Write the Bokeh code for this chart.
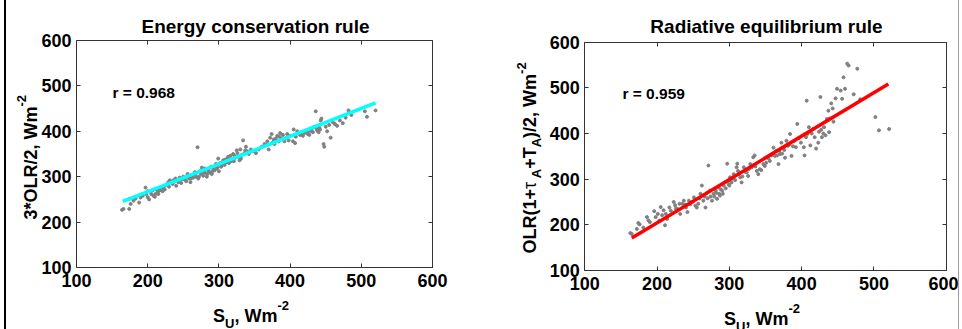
import math
from bokeh.plotting import figure
from bokeh.models import Range1d, LinearAxis, FixedTicker, Label, Spacer
from bokeh.layouts import row
from bokeh.embed import file_html
from bokeh.resources import INLINE

FONT = "Liberation Sans"

# ---------------- data ----------------
ticks = [100, 200, 300, 400, 500, 600]

titles = ["Energy conservation rule", "Radiative equilibrium rule"]
r_texts = ["r = 0.968", "r = 0.959"]

# Panel 1: S_U vs 3*OLR/2
su_energy = [164, 166, 174, 176, 174, 180, 183, 188, 190, 193, 197, 198, 200, 200, 202, 205, 207, 208, 210, 212,
             214, 215, 217, 219, 221, 223, 224, 226, 228, 230, 231, 233, 235, 237, 239, 240, 243, 245, 247, 250,
             252, 254, 256, 258, 260, 262, 264, 266, 268, 270, 271, 273, 275, 276, 278, 280, 281, 283, 285, 287,
             289, 290, 292, 294, 296, 298, 299, 300, 302, 304, 306, 308, 310, 312, 314, 316, 318, 320, 321, 323,
             325, 327, 329, 330, 332, 334, 336, 338, 340, 342, 345, 348, 352, 356, 360, 364, 368, 370, 372, 374,
             376, 378, 380, 382, 384, 386, 388, 390, 392, 395, 398, 400, 404, 405, 407, 410, 414, 416, 418, 420,
             424, 427, 430, 432, 434, 436, 438, 440, 442, 443, 444, 447, 448, 450, 452, 455, 457, 460, 463, 466,
             470, 474, 478, 482, 486, 505, 508, 520,
             211, 216, 222, 229, 236, 248, 255, 261, 267, 272, 279, 284, 286, 291, 297, 303, 309, 313, 317, 322,
             326, 331, 337, 343, 366, 377, 385, 396, 408, 413, 425, 429, 437, 441]
olr_energy = [227, 229, 229, 240, 251, 247, 252, 243, 254, 258, 276, 262, 268, 255, 250, 262, 270, 258, 256, 272,
              266, 262, 276, 270, 268, 280, 272, 282, 285, 278, 292, 288, 284, 290, 296, 280, 288, 298, 286, 300,
              294, 290, 306, 296, 288, 302, 298, 310, 300, 365, 296, 312, 306, 320, 302, 318, 308, 300, 314, 310,
              322, 306, 318, 314, 328, 320, 340, 312, 330, 324, 336, 326, 332, 340, 330, 346, 338, 350, 334, 342,
              358, 344, 336, 360, 348, 380, 352, 366, 356, 350, 360, 356, 352, 360, 366, 372, 378, 360, 386, 394,
              376, 372, 384, 390, 378, 396, 384, 392, 378, 386, 380, 390, 378, 404, 374, 400, 392, 398, 390, 396,
              400, 392, 404, 398, 410, 444, 402, 398, 404, 424, 428, 372, 366, 410, 400, 414, 386, 420, 416, 412,
              424, 418, 430, 446, 436, 444, 432, 446,
              262, 270, 276, 288, 292, 294, 300, 296, 304, 300, 310, 306, 318, 312, 318, 322, 338, 344, 334, 346,
              352, 340, 358, 354, 370, 382, 388, 394, 388, 396, 394, 400, 406, 408]

# Panel 2: S_U vs OLR(1+tau_A+T_A)/2
su_radiative = [163, 165, 172, 174, 176, 181, 186, 188, 190, 196, 198, 201, 203, 205, 207, 209, 211, 212, 214, 217,
                219, 223, 225, 228, 232, 235, 237, 240, 242, 244, 246, 251, 253, 255, 260, 262, 264, 267, 269, 271,
                273, 276, 278, 281, 283, 285, 287, 290, 292, 294, 297, 299, 301, 303, 306, 310, 311, 313, 315, 317,
                320, 324, 326, 329, 331, 333, 335, 338, 340, 342, 347, 349, 352, 356, 361, 363, 365, 368, 370, 372,
                375, 377, 379, 381, 384, 386, 390, 392, 394, 396, 403, 404, 407, 408, 410, 412, 416, 418, 420, 423,
                426, 427, 428, 431, 433, 435, 437, 438, 439, 441, 443, 444, 447, 449, 454, 456, 458, 460, 463, 465,
                472, 477, 481, 502, 507, 521,
                226, 231, 239, 249, 257, 259, 266, 270, 274, 279, 282, 286, 288, 291, 295, 298, 300, 302, 305, 308,
                312, 318, 322, 327, 336, 344, 351, 354, 358, 366, 369, 373, 376, 383, 388, 399, 406, 414, 424, 430]
olr_radiative = [182, 180, 191, 204, 201, 194, 217, 210, 206, 230, 217, 224, 209, 239, 221, 232, 199, 224, 213, 238,
                 231, 250, 243, 235, 224, 246, 253, 238, 228, 253, 245, 260, 242, 238, 268, 286, 253, 238, 270, 330,
                 275, 253, 268, 275, 257, 282, 264, 275, 286, 293, 334, 289, 304, 293, 311, 326, 334, 311, 304, 293,
                 326, 315, 307, 333, 326, 348, 352, 318, 311, 322, 333, 329, 348, 340, 369, 351, 362, 333, 355, 380,
                 369, 347, 384, 373, 399, 351, 384, 370, 421, 390, 370, 352, 472, 399, 414, 374, 410, 392, 367, 380,
                 480, 408, 392, 414, 396, 432, 450, 403, 433, 466, 455, 426, 477, 498, 494, 476, 523, 498, 553, 549,
                 486, 542, 475, 436, 407, 410,
                 236, 246, 244, 250, 246, 258, 262, 258, 262, 262, 270, 268, 278, 268, 280, 296, 286, 296, 302, 298,
                 318, 306, 316, 322, 328, 320, 336, 346, 352, 352, 362, 356, 364, 376, 372, 380, 392, 400, 404, 400]

# regression lines (end points)
fit_x = [165, 520]
fit_energy = [245.5, 462.5]
fit_radiative = [171, 508.5]

# ---------------- helpers ----------------
EM = {' ': .278, '(': .333, ')': .333, '*': .389, '+': .584, ',': .278, '-': .333, '.': .278, '/': .278,
      '=': .584, 'A': .722, 'L': .611, 'O': .778, 'R': .722, 'S': .667, 'T': .611, 'U': .722, 'W': .944,
      'm': .889, 'r': .389, '\u03c4': .6}
H = 329
AX = "#333333"


def tw(s, size):
    return sum(EM.get(c, .556) for c in s) * size


class Panel:
    """A figure whose frame fills the canvas; the axes box sits at the given pixel position."""

    def __init__(self, width, box_left, box_right, box_top, box_bottom):
        self.sx = (box_right - box_left) / 500.0
        self.sy = (box_bottom - box_top) / 500.0
        self.x0 = 100 - box_left / self.sx
        self.y1 = 600 + box_top / self.sy
        x1 = 600 + (width - box_right) / self.sx
        y0 = 100 - (H - box_bottom) / self.sy
        p = figure(width=width, height=H, x_range=Range1d(self.x0, x1), y_range=Range1d(y0, self.y1),
                   output_backend="svg", toolbar_location=None, title=None,
                   min_border=0, min_border_left=0, min_border_right=0, min_border_top=0, min_border_bottom=0)
        p.xaxis.visible = False
        p.yaxis.visible = False
        p.grid.visible = False
        p.outline_line_color = None
        p.background_fill_color = "white"
        p.border_fill_color = "white"
        for side, loc in (("below", 100), ("left", 100), ("above", 600), ("right", 600)):
            ax = LinearAxis(ticker=FixedTicker(ticks=ticks), fixed_location=loc, bounds=(100, 600),
                            major_tick_in=4, major_tick_out=0, minor_tick_line_color=None,
                            axis_line_color=AX, major_tick_line_color=AX,
                            major_label_text_font=FONT, major_label_text_font_style="bold",
                            major_label_text_font_size="18px", major_label_text_color="black")
            if side in ("above", "right"):
                ax.major_label_overrides = {t: "" for t in ticks}
                ax.major_label_text_color = None
            ax.major_label_standoff = 6 if side == "below" else 5
            p.add_layout(ax, side)
        self.p = p

    def dx(self, X):
        return self.x0 + X / self.sx

    def dy(self, Y):
        return self.y1 - Y / self.sy

    def put(self, X, Y, text, size, style="bold", angle=0.0, align="left"):
        self.p.add_layout(Label(x=self.dx(X), y=self.dy(Y), text=text, angle=angle, text_font=FONT,
                                text_font_size=f"{size}px", text_font_style=style, text_align=align,
                                text_baseline="alphabetic", text_color="black"))

    def rich(self, x0, y0, pieces, angle=0.0):
        pos = 0.0
        for text, size, shift, style in pieces:
            if angle == 0:
                X, Y = x0 + pos, y0 + shift
            else:
                X, Y = x0 + shift, y0 - pos
            self.put(X, Y, text, size, style, angle)
            pos += tw(text, size)


xl = [("S", 18, 0, "bold"), ("U", 13, 8, "bold"), (", Wm", 18, 0, "bold"), ("-2", 13, -10, "bold")]

# ---------------- panel 1 (window x 6..480) ----------------
P1 = Panel(474, 70, 426, 40, 267)
p1 = P1.p
p1.scatter(su_energy, olr_energy, size=3, color="#808080", marker="circle")
p1.line(fit_x, fit_energy, line_color="#00ffff", line_width=3.5)
p1.add_layout(Label(x=150.5, y=486, text=r_texts[0], text_font=FONT, text_font_size="15.5px",
                    text_font_style="bold", text_baseline="alphabetic", text_color="black"))
P1.put(249, 26, titles[0], 19, align="center")
P1.rich(206.5, 315, xl)
P1.rich(24, 219, [("3*OLR/2, Wm", 18, 0, "bold"), ("-2", 13, -9, "bold")], angle=math.pi / 2)

# ---------------- panel 2 (window x 480..958) ----------------
P2 = Panel(478, 104.3, 465.7, 41.7, 270)
p2 = P2.p
p2.scatter(su_radiative, olr_radiative, size=3, color="#808080", marker="circle")
p2.line(fit_x, fit_radiative, line_color="#ff0000", line_width=3.5)
p2.add_layout(Label(x=152, y=487, text=r_texts[1], text_font=FONT, text_font_size="15.5px",
                    text_font_style="bold", text_baseline="alphabetic", text_color="black"))
P2.put(286, 26, titles[1], 19, align="center")
P2.rich(243.5, 318, xl)
yl2 = [("OLR(1+", 18, 0, "bold"), ("\u03c4", 18, 0, "normal"), ("A", 13, 6, "bold"), ("+T", 18, 0, "bold"),
       ("A", 13, 6, "bold"), (")/2, Wm", 18, 0, "bold"), ("-2", 13, -9, "bold")]
P2.rich(49.5, 253, yl2, angle=math.pi / 2)

layout = row(
    Spacer(width=4, height=H),
    Spacer(width=2, height=H, styles={"background-color": "black"}),
    p1, p2,
    Spacer(width=1, height=H, styles={"background-color": "#a0a0a0"}),
    Spacer(width=3, height=H),
)

open("out.html", "w").write(file_html(layout, INLINE))
